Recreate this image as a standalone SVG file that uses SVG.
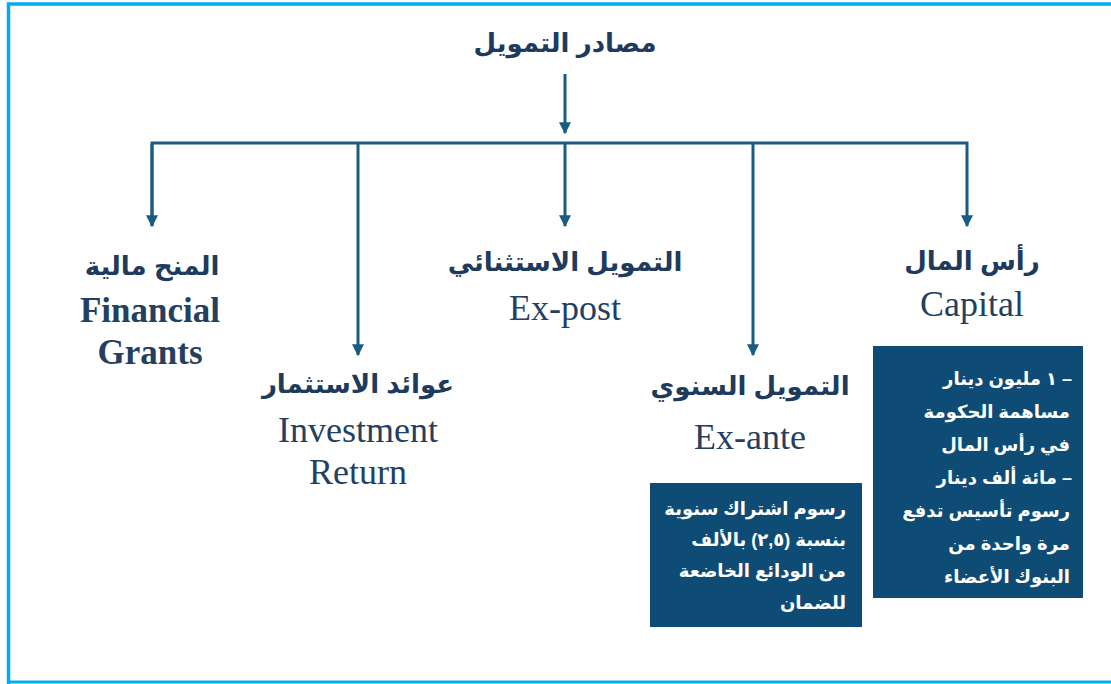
<svg xmlns="http://www.w3.org/2000/svg" width="1111" height="684" viewBox="0 0 1111 684">
  <style>
    .ar { font-family: "Liberation Sans", "DejaVu Sans", sans-serif; font-weight: bold; fill: #1e3a5c; }
    .en { font-family: "Liberation Serif", serif; fill: #243f60; }
    .box { fill: #0f4c75; }
    .boxtext { font-family: "Liberation Sans", "DejaVu Sans", sans-serif; font-weight: bold; fill: #ffffff; font-size: 18px; }
    .conn { stroke: #1a5b82; stroke-width: 3; fill: none; }
  </style>
  <defs>
    <marker id="arrow" viewBox="0 0 10 10" refX="9" refY="5" markerWidth="4" markerHeight="4" orient="auto" markerUnits="strokeWidth">
      <path d="M0,0 L10,5 L0,10 z" fill="#1a5b82"/>
    </marker>
  </defs>

  <rect width="1111" height="684" fill="#ffffff"/>
  <!-- frame -->
  <path d="M8.5,684 V4 H1111" stroke="#00aeef" stroke-width="3.5" fill="none"/>
  <line x1="8" y1="682" x2="1111" y2="682" stroke="#00aeef" stroke-width="3"/>

  <!-- connectors -->
  <g id="connectors">
    <line class="conn" x1="565" y1="74" x2="565" y2="133" marker-end="url(#arrow)"/>
    <path class="conn" d="M152,226 V143 H967 V226" marker-end="url(#arrow)"/>
    <line class="conn" x1="152" y1="144" x2="152" y2="226" marker-end="url(#arrow)"/>
    <line class="conn" x1="358" y1="143" x2="358" y2="355" marker-end="url(#arrow)"/>
    <line class="conn" x1="565" y1="143" x2="565" y2="226" marker-end="url(#arrow)"/>
    <line class="conn" x1="753" y1="143" x2="753" y2="355" marker-end="url(#arrow)"/>
  </g>

  <g id="root">
    <text class="ar" x="565" y="52" font-size="26" text-anchor="middle">مصادر التمويل</text>
  </g>

  <g id="grants">
    <text class="ar" x="152" y="275" font-size="26" text-anchor="middle">المنح مالية</text>
    <text class="en" x="150" y="322" font-size="35" font-weight="bold" text-anchor="middle">Financial</text>
    <text class="en" x="150" y="364" font-size="35" font-weight="bold" text-anchor="middle">Grants</text>
  </g>

  <g id="investment">
    <text class="ar" x="358" y="393" font-size="26" text-anchor="middle">عوائد الاستثمار</text>
    <text class="en" x="358" y="442" font-size="36" text-anchor="middle">Investment</text>
    <text class="en" x="358" y="484" font-size="36" text-anchor="middle">Return</text>
  </g>

  <g id="expost">
    <text class="ar" x="565" y="271" font-size="26" text-anchor="middle">التمويل الاستثنائي</text>
    <text class="en" x="565" y="320" font-size="36" text-anchor="middle">Ex-post</text>
  </g>

  <g id="exante">
    <text class="ar" x="750" y="395" font-size="26" text-anchor="middle">التمويل السنوي</text>
    <text class="en" x="750" y="449" font-size="36" text-anchor="middle">Ex-ante</text>
    <rect class="box" x="650" y="483" width="212" height="144"/>
    <g class="boxtext" direction="rtl">
      <text x="846" y="515" text-anchor="start">رسوم اشتراك سنوية</text>
      <text x="846" y="546" text-anchor="start">بنسبة (٢,٥) بالألف</text>
      <text x="846" y="577" text-anchor="start">من الودائع الخاضعة</text>
      <text x="846" y="609" text-anchor="start">للضمان</text>
    </g>
  </g>

  <g id="capital">
    <text class="ar" x="972" y="270" font-size="26" text-anchor="middle">رأس المال</text>
    <text class="en" x="972" y="316" font-size="36" text-anchor="middle">Capital</text>
    <rect class="box" x="873" y="346" width="210" height="252"/>
    <g class="boxtext" direction="rtl">
      <text x="1072" y="385" text-anchor="start">– ١ مليون دينار</text>
      <text x="1070" y="418" text-anchor="start">مساهمة الحكومة</text>
      <text x="1070" y="451" text-anchor="start">في رأس المال</text>
      <text x="1072" y="484" text-anchor="start">– مائة ألف دينار</text>
      <text x="1070" y="517" text-anchor="start">رسوم تأسيس تدفع</text>
      <text x="1070" y="550" text-anchor="start">مرة واحدة من</text>
      <text x="1070" y="583" text-anchor="start">البنوك الأعضاء</text>
    </g>
  </g>
</svg>
